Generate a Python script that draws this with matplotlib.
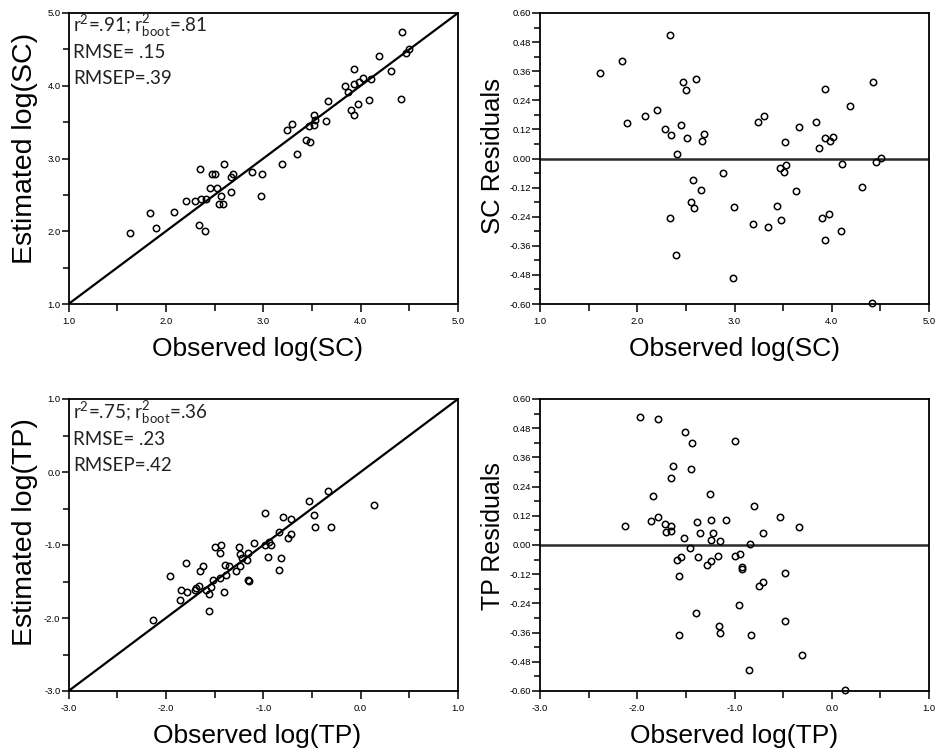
import matplotlib
matplotlib.use("Agg")
import matplotlib.pyplot as plt
from matplotlib.ticker import MultipleLocator, FormatStrFormatter

# ---------------- data ----------------
sc_obs = [1.63, 1.84, 1.90, 2.08, 2.21, 2.30, 2.35, 2.36, 2.34, 2.40, 2.41, 2.45, 2.47, 2.50, 2.52,
          2.57, 2.55, 2.59, 2.60, 2.67, 2.67, 2.69, 2.88, 2.99, 2.98, 3.19, 3.24, 3.30, 3.35, 3.44,
          3.48, 3.47, 3.52, 3.52, 3.53, 3.64, 3.66, 3.84, 3.87, 3.90, 3.93, 3.93, 3.93, 3.97, 3.98,
          4.02, 4.09, 4.11, 4.19, 4.31, 4.41, 4.42, 4.47, 4.50]
sc_est = [1.98, 2.25, 2.04, 2.26, 2.41, 2.41, 2.86, 2.45, 2.09, 2.00, 2.44, 2.59, 2.79, 2.79, 2.60,
          2.49, 2.38, 2.38, 2.93, 2.54, 2.74, 2.79, 2.82, 2.79, 2.48, 2.92, 3.39, 3.48, 3.06, 3.25,
          3.22, 3.44, 3.46, 3.60, 3.53, 3.51, 3.79, 4.00, 3.92, 3.66, 3.60, 4.23, 4.02, 3.75, 4.05,
          4.10, 3.80, 4.09, 4.41, 4.20, 3.82, 4.74, 4.45, 4.51]

scr_obs = [1.62, 1.84, 1.89, 2.08, 2.20, 2.29, 2.34, 2.35, 2.34, 2.40, 2.41, 2.45, 2.47, 2.50, 2.51,
           2.57, 2.55, 2.58, 2.60, 2.66, 2.67, 2.69, 2.88, 2.99, 2.98, 3.19, 3.24, 3.30, 3.34, 3.44,
           3.47, 3.48, 3.51, 3.52, 3.53, 3.63, 3.66, 3.84, 3.87, 3.90, 3.93, 3.93, 3.93, 3.97, 3.98,
           4.01, 4.09, 4.11, 4.19, 4.31, 4.41, 4.42, 4.46, 4.51]
scr_res = [0.354, 0.404, 0.146, 0.174, 0.199, 0.121, 0.511, 0.096, -0.247, -0.397, 0.019, 0.137,
           0.316, 0.283, 0.085, -0.089, -0.180, -0.206, 0.327, -0.128, 0.071, 0.103, -0.059,
           -0.198, -0.492, -0.272, 0.152, 0.177, -0.283, -0.194, -0.041, -0.254, -0.056, 0.067,
           -0.025, -0.133, 0.128, 0.152, 0.043, -0.244, -0.336, 0.287, 0.085, -0.227, 0.074,
           0.088, -0.297, -0.021, 0.217, -0.119, -0.597, 0.316, -0.016, 0.001]

tp_obs = [-2.13, -1.96, -1.86, -1.84, -1.79, -1.78, -1.70, -1.69, -1.66, -1.65, -1.62, -1.59, -1.56,
          -1.56, -1.54, -1.52, -1.50, -1.44, -1.44, -1.43, -1.40, -1.39, -1.38, -1.35, -1.28, -1.25,
          -1.24, -1.24, -1.22, -1.17, -1.16, -1.16, -1.15, -1.09, -0.98, -0.98, -0.95, -0.94, -0.92,
          -0.84, -0.84, -0.82, -0.80, -0.75, -0.71, -0.71, -0.53, -0.48, -0.47, -0.34, -0.30, 0.14]
tp_est = [-2.03, -1.43, -1.75, -1.61, -1.25, -1.65, -1.61, -1.59, -1.56, -1.35, -1.29, -1.61, -1.67,
          -1.91, -1.58, -1.48, -1.03, -1.45, -1.11, -1.00, -1.65, -1.28, -1.41, -1.29, -1.35, -1.03,
          -1.29, -1.13, -1.18, -1.20, -1.11, -1.48, -1.49, -0.97, -0.56, -1.00, -1.17, -0.96, -1.00,
          -1.34, -0.82, -1.18, -0.62, -0.91, -0.65, -0.85, -0.40, -0.59, -0.76, -0.26, -0.75, -0.45]

tpr_obs = [-2.13, -1.97, -1.86, -1.84, -1.79, -1.79, -1.71, -1.70, -1.65, -1.65, -1.65, -1.63, -1.57,
           -1.57, -1.59, -1.55, -1.52, -1.51, -1.46, -1.45, -1.44, -1.40, -1.39, -1.38, -1.35, -1.28,
           -1.25, -1.24, -1.24, -1.24, -1.22, -1.17, -1.16, -1.15, -1.15, -1.09, -0.99, -0.99, -0.95,
           -0.94, -0.92, -0.92, -0.85, -0.84, -0.83, -0.80, -0.75, -0.71, -0.71, -0.53, -0.48, -0.48,
           -0.34, -0.31, 0.14]
tpr_res = [0.079, 0.525, 0.097, 0.203, 0.518, 0.115, 0.088, 0.053, 0.079, 0.058, 0.277, 0.326,
           -0.129, -0.370, -0.062, -0.051, 0.030, 0.464, -0.014, 0.312, 0.418, -0.281, 0.093,
           -0.048, 0.048, -0.082, 0.210, 0.104, 0.022, -0.066, 0.048, -0.044, -0.334, -0.362,
           0.016, 0.101, -0.045, 0.429, -0.245, -0.037, -0.090, -0.097, -0.514, 0.003, -0.370,
           0.160, -0.168, -0.151, 0.048, 0.115, -0.115, -0.312, 0.073, -0.453, -0.595]

sc_range = (1.0, 5.0)
tp_range = (-3.0, 1.0)
res_range = (-0.60, 0.60)

sc_stats = [r"r$^{2}$=.91; r$^{2}_{\mathrm{boot}}$=.81", "RMSE= .15", "RMSEP=.39"]
tp_stats = [r"r$^{2}$=.75; r$^{2}_{\mathrm{boot}}$=.36", "RMSE= .23", "RMSEP=.42"]

# ---------------- style ----------------
plt.rcParams['font.family'] = ['Liberation Sans', 'DejaVu Sans']
plt.rcParams['mathtext.fontset'] = 'custom'
plt.rcParams['mathtext.rm'] = 'Lato'
plt.rcParams['mathtext.it'] = 'Lato:italic'
plt.rcParams['mathtext.bf'] = 'Lato:bold'

W, H = 940, 753
fig = plt.figure(figsize=(W / 100, H / 100), dpi=100)


def make_axes(l, t, r, b):
    return fig.add_axes([l / W, 1 - b / H, (r - l) / W, (b - t) / H])


ax_tl = make_axes(68.5, 13, 458, 304)
ax_tr = make_axes(540, 13, 929, 304)
ax_bl = make_axes(68.5, 399, 458, 691)
ax_br = make_axes(540, 399, 929, 691)

TICK_FS = 6.8
MARK = dict(linestyle='none', marker='o', ms=4.6, mfc='none', mec='black', mew=1.1,
            clip_on=False, zorder=3)
XLAB_Y = -0.112


def style_axes(ax, xr, yr, ymaj, ymin, yfmt):
    ax.set_xlim(*xr)
    ax.set_ylim(*yr)
    for s in ax.spines.values():
        s.set_linewidth(1.3)
        s.set_color('black')
    ax.xaxis.set_major_locator(MultipleLocator(1.0))
    ax.xaxis.set_minor_locator(MultipleLocator(0.5))
    ax.xaxis.set_major_formatter(FormatStrFormatter('%.1f'))
    ax.yaxis.set_major_locator(MultipleLocator(ymaj))
    ax.yaxis.set_minor_locator(MultipleLocator(ymin))
    ax.yaxis.set_major_formatter(FormatStrFormatter(yfmt))
    ax.tick_params(axis='x', which='major', direction='out', length=5.5, width=1.1,
                   pad=4.0, labelsize=TICK_FS, top=False)
    ax.tick_params(axis='x', which='minor', direction='out', length=5.0, width=1.1, top=False)
    ax.tick_params(axis='y', which='major', direction='out', length=5.2, width=1.1,
                   pad=0.6, labelsize=TICK_FS, right=False)
    ax.tick_params(axis='y', which='minor', direction='out', length=4.0, width=1.1, right=False)


def add_stats(ax, lines, first_off):
    h = ax.bbox.height
    w = ax.bbox.width
    for i, txt in enumerate(lines):
        off = first_off + 26 * i
        ax.text(4.5 / w, 1 - off / h, txt, transform=ax.transAxes,
                fontsize=13.5, family=['Lato', 'DejaVu Sans'], va='baseline', ha='left',
                color='#222222')


# --- top left: estimated vs observed SC
style_axes(ax_tl, sc_range, sc_range, 1.0, 0.5, '%.1f')
ax_tl.plot(sc_range, sc_range, color='black', lw=1.6, zorder=2)
ax_tl.plot(sc_obs, sc_est, **MARK)
ax_tl.set_xlabel('Observed log(SC)', fontsize=19)
ax_tl.set_ylabel('Estimated log(SC)', fontsize=20.5)
ax_tl.xaxis.set_label_coords(0.484, XLAB_Y)
ax_tl.yaxis.set_label_coords(-0.078, 0.534)
add_stats(ax_tl, sc_stats, 18.5)

# --- top right: SC residuals
style_axes(ax_tr, sc_range, res_range, 0.12, 0.06, '%.2f')
ax_tr.axhline(0, color='#2b2b2b', lw=1.8, zorder=2)
ax_tr.plot(scr_obs, scr_res, **MARK)
ax_tr.set_xlabel('Observed log(SC)', fontsize=19)
ax_tr.set_ylabel('SC Residuals', fontsize=18.5)
ax_tr.xaxis.set_label_coords(0.5, XLAB_Y)
ax_tr.yaxis.set_label_coords(-0.09, 0.508)
ax_tr.tick_params(axis='y', which='major', length=6.0)

# --- bottom left: estimated vs observed TP
style_axes(ax_bl, tp_range, tp_range, 1.0, 0.5, '%.1f')
ax_bl.plot(tp_range, tp_range, color='black', lw=1.6, zorder=2)
ax_bl.plot(tp_obs, tp_est, **MARK)
ax_bl.set_xlabel('Observed log(TP)', fontsize=19)
ax_bl.set_ylabel('Estimated log(TP)', fontsize=20.5)
ax_bl.xaxis.set_label_coords(0.484, XLAB_Y)
ax_bl.yaxis.set_label_coords(-0.078, 0.545)
add_stats(ax_bl, tp_stats, 20)

# --- bottom right: TP residuals
style_axes(ax_br, tp_range, res_range, 0.12, 0.06, '%.2f')
ax_br.axhline(0, color='#2b2b2b', lw=1.8, zorder=2)
ax_br.plot(tpr_obs, tpr_res, **MARK)
ax_br.set_xlabel('Observed log(TP)', fontsize=19)
ax_br.set_ylabel('TP Residuals', fontsize=18)
ax_br.xaxis.set_label_coords(0.5, XLAB_Y)
ax_br.yaxis.set_label_coords(-0.09, 0.529)
ax_br.tick_params(axis='y', which='major', length=6.0)

fig.savefig('out.png', dpi=100)
